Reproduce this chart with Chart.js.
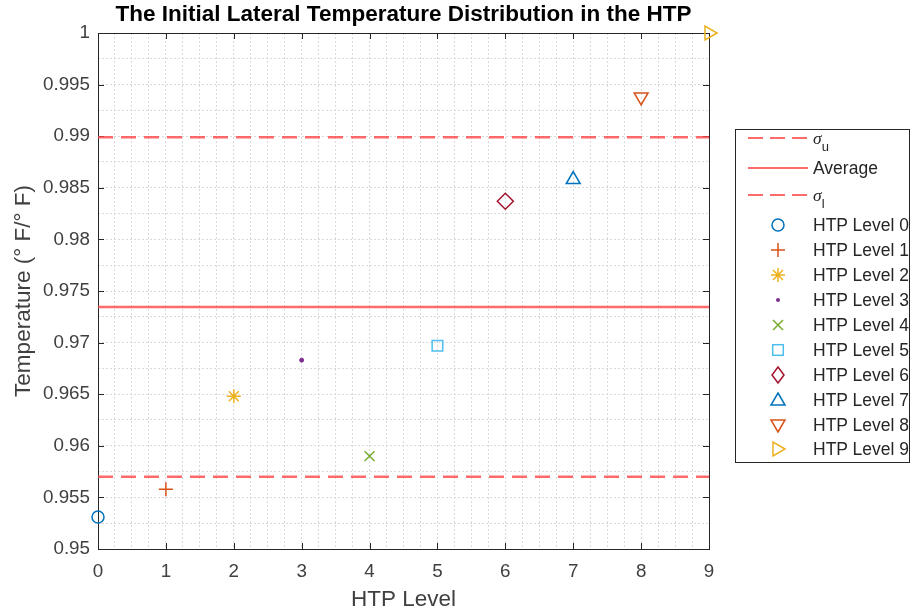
<!DOCTYPE html>
<html><head><meta charset="utf-8">
<script src="https://cdn.jsdelivr.net/npm/chart.js@4.4.0/dist/chart.umd.min.js"></script>
<style>
html,body{margin:0;padding:0;background:#fff;}
#wrap{position:relative;width:911px;height:613px;overflow:hidden;}
#c{position:absolute;left:0;top:0;}
#legend{position:absolute;left:735px;top:129px;width:175px;height:334px;border:1px solid #262626;background:#fff;box-sizing:border-box;font-family:"Liberation Sans",Arial,sans-serif;font-size:17.5px;color:#262626;}
.row{position:absolute;left:0;width:100%;height:24px;}
.row svg{position:absolute;left:0;top:0;}
.row span{position:absolute;left:77px;top:0;line-height:24px;white-space:nowrap;}
.row i{font-family:"Liberation Serif","Times New Roman",serif;font-style:italic;}
.row sub{font-size:13px;vertical-align:-7px;line-height:0;}
</style>
</head><body>
<div id="wrap"><canvas id="c" width="911" height="613"></canvas><div id="legend"></div></div>
<script>
// ---- data ----
const levels = [0, 1, 2, 3, 4, 5, 6, 7, 8, 9];
const temps = [0.9531, 0.9558, 0.9648, 0.9683, 0.9590, 0.9697, 0.9837, 0.9858, 0.9938, 1.0000];
const seriesLabels = ['HTP Level 0','HTP Level 1','HTP Level 2','HTP Level 3','HTP Level 4','HTP Level 5','HTP Level 6','HTP Level 7','HTP Level 8','HTP Level 9'];
const sigmaUpper = 0.9899;
const average = 0.97345;
const sigmaLower = 0.9570;
const xTickValues = [0, 1, 2, 3, 4, 5, 6, 7, 8, 9];
const yTickValues = [0.95, 0.955, 0.96, 0.965, 0.97, 0.975, 0.98, 0.985, 0.99, 0.995, 1];
const titleText = 'The Initial Lateral Temperature Distribution in the HTP';
const xTitle = 'HTP Level';
const yTitle = 'Temperature (\u00b0 F/\u00b0 F)';

// ---- styles ----
const colors = ['#0072BD','#D95319','#EDB120','#7E2F8E','#77AC30','#4DBEEE','#A2142F','#0072BD','#D95319','#EDB120'];
const markers = [
  {style:'circle', r:6, rot:0},
  {style:'cross', r:7, rot:0},
  {style:'star', r:7, rot:0},
  {style:'circle', r:2, rot:0, fill:true},
  {style:'crossRot', r:7, rot:0},
  {style:'rect', r:7.5, rot:0},
  {style:'rectRot', r:8, rot:0},
  {style:'triangle', r:8, rot:0},
  {style:'triangle', r:8, rot:180},
  {style:'triangle', r:8, rot:90}
];
const red = 'rgba(255,70,70,0.8)';
const dash = [15, 8];

const xGrid = Array.from({length: 37}, (_, i) => i * 0.25);
const yGrid = Array.from({length: 21}, (_, i) => +(0.95 + i * 0.0025).toFixed(4));

const ends = [levels[0], levels[levels.length - 1]];
const datasets = [
  {label:'σu', data: ends.map(x=>({x, y:sigmaUpper})), showLine:true, borderColor:red, borderWidth:2.5, borderDash:dash, pointRadius:0},
  {label:'Average', data: ends.map(x=>({x, y:average})), showLine:true, borderColor:red, borderWidth:2.5, pointRadius:0},
  {label:'σl', data: ends.map(x=>({x, y:sigmaLower})), showLine:true, borderColor:red, borderWidth:2.5, borderDash:dash, pointRadius:0}
];
levels.forEach((lv, i) => {
  const m = markers[i];
  datasets.push({
    label: seriesLabels[i],
    data: [{x: lv, y: temps[i]}],
    pointStyle: m.style,
    pointRadius: m.r,
    pointRotation: m.rot,
    borderColor: colors[i],
    backgroundColor: m.fill ? colors[i] : 'rgba(0,0,0,0)',
    pointBorderWidth: m.fill ? 1 : 1.5,
    clip: false
  });
});

const near = (v, arr) => arr.some(t => Math.abs(t - v) < 1e-7);
const font = '"Liberation Sans", Arial, sans-serif';

const boxPlugin = {
  id: 'box',
  beforeDatasetsDraw(chart) {
    const {ctx, chartArea: a, scales: {x, y}} = chart;
    ctx.save();
    ctx.strokeStyle = '#262626';
    ctx.lineWidth = 1;
    ctx.strokeRect(Math.round(a.left) + 0.5, Math.round(a.top) + 0.5, Math.round(a.right - a.left), Math.round(a.bottom - a.top));
    ctx.beginPath();
    const L = 6;
    xTickValues.forEach(v => {
      const px = Math.round(x.getPixelForValue(v)) + 0.5;
      ctx.moveTo(px, a.bottom); ctx.lineTo(px, a.bottom - L);
      ctx.moveTo(px, a.top); ctx.lineTo(px, a.top + L);
    });
    yTickValues.forEach(v => {
      const py = Math.round(y.getPixelForValue(v)) + 0.5;
      ctx.moveTo(a.left, py); ctx.lineTo(a.left + L, py);
      ctx.moveTo(a.right, py); ctx.lineTo(a.right - L, py);
    });
    ctx.stroke();
    ctx.restore();
  },
  afterDraw(chart) {
    const {ctx, chartArea: a} = chart;
    ctx.save();
    ctx.fillStyle = '#000';
    ctx.font = 'bold 22.5px ' + font;
    ctx.textAlign = 'center';
    ctx.textBaseline = 'middle';
    ctx.fillText(titleText, (a.left + a.right) / 2, 15);
    ctx.restore();
  }
};

new Chart(document.getElementById('c'), {
  type: 'scatter',
  data: {datasets},
  options: {
    responsive: false,
    animation: false,
    layout: {padding: {left: 0, right: 202, top: 33, bottom: 0}},
    plugins: {
      legend: {display: false},
      tooltip: {enabled: false},
      title: {display: false}
    },
    scales: {
      x: {
        type: 'linear', min: 0, max: 9,
        afterBuildTicks: s => { s.ticks = xGrid.map(v => ({value: v})); },
        afterFit: s => { s.height = 64; },
        ticks: {autoSkip: false, maxRotation: 0, padding: 12, color: '#404040', font: {family: font, size: 18.8},
          callback: v => near(v, xTickValues) ? String(Math.round(v)) : ''},
        grid: {drawTicks: false, color: '#d9d9d9', lineWidth: 1},
        border: {display: false, dash: [2, 2]},
        title: {display: true, text: xTitle, color: '#404040', font: {family: font, size: 22.5, lineHeight: 1}, padding: {top: 2, bottom: 2}}
      },
      y: {
        type: 'linear', min: 0.95, max: 1,
        afterBuildTicks: s => { s.ticks = yGrid.map(v => ({value: v})); },
        afterFit: s => { s.width = 98; },
        ticks: {autoSkip: false, padding: 8, color: '#404040', font: {family: font, size: 18.8},
          callback: v => near(v, yTickValues) ? String(+v.toFixed(3)) : ''},
        grid: {drawTicks: false, color: '#d9d9d9', lineWidth: 1},
        border: {display: false, dash: [2, 2]},
        title: {display: true, text: yTitle, color: '#404040', font: {family: font, size: 22.5, lineHeight: 1}, padding: {top: 13, bottom: 13}}
      }
    }
  },
  plugins: [boxPlugin]
});

// ---- legend ----
const leg = document.getElementById('legend');
function markerSvg(i) {
  const m = markers[i], c = colors[i], cx = 42, cy = 12;
  const sw = 1.5;
  let s = '';
  if (m.style === 'circle' && !m.fill) s = `<circle cx="${cx}" cy="${cy}" r="6" fill="none" stroke="${c}" stroke-width="${sw}"/>`;
  else if (m.style === 'circle') s = `<circle cx="${cx}" cy="${cy}" r="2" fill="${c}"/>`;
  else if (m.style === 'cross') s = `<path d="M${cx-7} ${cy}H${cx+7}M${cx} ${cy-7}V${cy+7}" stroke="${c}" stroke-width="${sw}"/>`;
  else if (m.style === 'crossRot') s = `<path d="M${cx-5} ${cy-5}L${cx+5} ${cy+5}M${cx-5} ${cy+5}L${cx+5} ${cy-5}" stroke="${c}" stroke-width="${sw}"/>`;
  else if (m.style === 'star') s = `<path d="M${cx-7} ${cy}H${cx+7}M${cx} ${cy-7}V${cy+7}M${cx-5} ${cy-5}L${cx+5} ${cy+5}M${cx-5} ${cy+5}L${cx+5} ${cy-5}" stroke="${c}" stroke-width="${sw}"/>`;
  else if (m.style === 'rect') s = `<rect x="${cx-5.3}" y="${cy-5.3}" width="10.6" height="10.6" fill="none" stroke="${c}" stroke-width="${sw}"/>`;
  else if (m.style === 'rectRot') s = `<path d="M${cx} ${cy-8}L${cx+6} ${cy}L${cx} ${cy+8}L${cx-6} ${cy}Z" fill="none" stroke="${c}" stroke-width="${sw}"/>`;
  else if (m.style === 'triangle') {
    let pts;
    if (m.rot === 0) pts = `${cx},${cy-7} ${cx+7},${cy+5} ${cx-7},${cy+5}`;
    else if (m.rot === 180) pts = `${cx},${cy+7} ${cx+7},${cy-5} ${cx-7},${cy-5}`;
    else pts = `${cx+7},${cy} ${cx-5},${cy-7} ${cx-5},${cy+7}`;
    s = `<polygon points="${pts}" fill="none" stroke="${c}" stroke-width="${sw}"/>`;
  }
  return `<svg width="84" height="24">${s}</svg>`;
}
const lineSvg = (dashed) => `<svg width="84" height="24"><line x1="12" y1="12" x2="72" y2="12" stroke="${red}" stroke-width="2" ${dashed ? 'stroke-dasharray="15 7"' : ''}/></svg>`;
const rows = [
  {y: 8, html: lineSvg(true) + '<span><i>σ</i><sub>u</sub></span>'},
  {y: 37.5, html: lineSvg(false) + '<span>Average</span>'},
  {y: 65, html: lineSvg(true) + '<span><i>σ</i><sub>l</sub></span>'}
];
seriesLabels.forEach((lab, i) => rows.push({y: 95.3 + i * 24.9, html: markerSvg(i) + `<span>${lab}</span>`}));
rows.forEach(r => {
  const d = document.createElement('div');
  d.className = 'row';
  d.style.top = (r.y - 12) + 'px';
  d.innerHTML = r.html;
  leg.appendChild(d);
});
</script>
</body></html>
